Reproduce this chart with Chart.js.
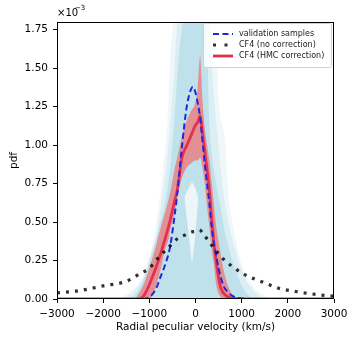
<!DOCTYPE html>
<html>
<head>
<meta charset="utf-8">
<script src="https://cdn.jsdelivr.net/npm/chart.js@4"></script>
<style>
  html, body { margin: 0; padding: 0; background: #fff; }
</style>
</head>
<body>
<canvas id="chart" width="357" height="342"></canvas>
<script>
// values are in units of 1e-3 (pdf), x in km/s
const xTicks = [-3000, -2000, -1000, 0, 1000, 2000, 3000];
const yTicks = [0, 0.25, 0.5, 0.75, 1.0, 1.25, 1.5, 1.75];
const legendLabels = ['validation samples', 'CF4 (no correction)', 'CF4 (HMC correction)'];

// validation samples (mean curve)
const valX = [-3000, -1200, -1050, -950, -850, -750, -650, -550, -450, -400, -350, -300, -250, -200, -150, -100, -60, 0, 50, 100, 150, 200, 250, 300, 350, 400, 450, 500, 600, 700, 800, 900, 1000, 1200, 3000];
const valY = [0, 0, 0.005, 0.025, 0.07, 0.15, 0.23, 0.34, 0.55, 0.67, 0.82, 0.97, 1.11, 1.23, 1.31, 1.36, 1.38, 1.34, 1.27, 1.18, 1.03, 0.88, 0.75, 0.62, 0.47, 0.36, 0.28, 0.2, 0.09, 0.045, 0.02, 0.008, 0.003, 0, 0];

// CF4, no correction
const cfX = [-3000, -2500, -2000, -1500, -1200, -1000, -800, -600, -400, -200, -100, 0, 80, 200, 300, 400, 600, 800, 1000, 1200, 1500, 1800, 2200, 2600, 3000];
const cfY = [0.04, 0.055, 0.085, 0.115, 0.165, 0.2, 0.27, 0.33, 0.39, 0.42, 0.435, 0.44, 0.45, 0.41, 0.37, 0.33, 0.26, 0.21, 0.17, 0.14, 0.105, 0.07, 0.047, 0.03, 0.018];

// CF4, HMC correction
const hmcX = [-3000, -1250, -1150, -1050, -950, -850, -750, -650, -550, -450, -400, -350, -300, -250, -200, -100, 0, 50, 100, 150, 200, 250, 300, 350, 400, 450, 500, 550, 650, 800, 1000, 3000];
const hmcY = [0, 0, 0.01, 0.06, 0.13, 0.21, 0.30, 0.40, 0.51, 0.64, 0.70, 0.80, 0.91, 0.96, 0.99, 1.06, 1.13, 1.15, 1.19, 1.08, 0.96, 0.84, 0.71, 0.52, 0.36, 0.24, 0.14, 0.07, 0.025, 0.005, 0, 0];

// spread of the HMC samples (envelopes)
const hmcBandX = [-1300, -1130, -1000, -880, -750, -660, -590, -530, -450, -410, -300, -200, -100, 0, 50, 100, 150, 200, 250, 300, 350, 390, 450, 530, 600, 700, 800, 900];
const hmcUpper = [0, 0.09, 0.2, 0.32, 0.47, 0.56, 0.64, 0.72, 0.85, 0.9, 1.05, 1.15, 1.22, 1.28, 1.38, 1.58, 1.3, 1.12, 1.0, 0.9, 0.76, 0.64, 0.47, 0.32, 0.2, 0.09, 0.03, 0];
const hmcLower = [0, 0, 0, 0.06, 0.2, 0.32, 0.38, 0.47, 0.56, 0.64, 0.78, 0.85, 0.88, 0.9, 0.9, 0.92, 0.85, 0.75, 0.6, 0.47, 0.32, 0.24, 0.09, 0.02, 0, 0, 0, 0];

// spread of the validation samples (three density levels)
const valInnerX = [-1400, -1250, -1100, -950, -800, -650, -550, -450, -370, -180, 240, 265, 290, 350, 450, 550, 650, 800, 950, 1100, 1250];
const valInnerY = [0, 0.05, 0.15, 0.3, 0.45, 0.64, 0.85, 1.2, 1.55, 1.9, 1.9, 1.55, 1.2, 0.95, 0.75, 0.58, 0.42, 0.25, 0.12, 0.04, 0];
const valMidX = [-1550, -1300, -1100, -900, -750, -600, -480, -350, 300, 380, 480, 600, 750, 900, 1100, 1300, 1450];
const valMidY = [0, 0.06, 0.15, 0.33, 0.6, 0.95, 1.4, 1.9, 1.9, 1.4, 1.05, 0.7, 0.45, 0.28, 0.12, 0.04, 0];
const valOuterX = [-1700, -1500, -1300, -1100, -900, -800, -700, -600, -550, -420, 420, 500, 650, 700, 800, 900, 1000, 1200, 1400, 1600];
const valOuterY = [0, 0.03, 0.08, 0.18, 0.4, 0.6, 0.85, 1.2, 1.55, 1.9, 1.9, 1.3, 1.0, 0.72, 0.5, 0.35, 0.22, 0.1, 0.04, 0];

// sparse region in the middle of the sample cloud
const gapX = [-240, -150, -75, 0, 60];
const gapTop = [0.66, 0.72, 0.76, 0.72, 0.66];
const gapBottom = [0.66, 0.42, 0.23, 0.42, 0.66];

const pts = (xs, ys) => xs.map((x, i) => ({ x: x, y: ys[i] }));

const blueLine = '#2424e0';
const redLine = '#e2304f';
const dotColor = 'rgba(0,0,0,0.8)';
const clear = 'rgba(0,0,0,0)';
const font = 'DejaVu Sans';

const frameAndText = {
  id: 'frameAndText',
  afterDraw(chart) {
    const ctx = chart.ctx;
    const a = chart.chartArea;
    ctx.save();
    ctx.strokeStyle = '#000';
    ctx.lineWidth = 1;
    ctx.strokeRect(a.left + 0.5, a.top + 0.5, a.right - a.left - 1, a.bottom - a.top - 1);

    ctx.fillStyle = '#000';
    ctx.font = '10.5px "' + font + '"';
    ctx.textAlign = 'center';
    ctx.textBaseline = 'middle';
    ctx.fillText('Radial peculiar velocity (km/s)', (a.left + a.right) / 2, 327);

    ctx.save();
    ctx.translate(14, (a.top + a.bottom) / 2);
    ctx.rotate(-Math.PI / 2);
    ctx.fillText('pdf', 0, 0);
    ctx.restore();

    ctx.textAlign = 'left';
    ctx.font = '10px "' + font + '"';
    ctx.fillText('\u00d710', a.left, 13);
    ctx.font = '7px "' + font + '"';
    ctx.fillText('\u22123', a.left + 18, 8);

    // legend
    const lx = 203, ly = 23, lw = 128, lh = 44;
    ctx.fillStyle = 'rgba(255,255,255,0.85)';
    ctx.strokeStyle = '#d0d0d0';
    ctx.lineWidth = 1;
    ctx.beginPath();
    ctx.roundRect(lx + 0.5, ly + 0.5, lw, lh, 2);
    ctx.fill();
    ctx.stroke();

    const rows = [34, 45, 56];
    const styles = [
      { color: blueLine, width: 2, dash: [6, 3.5] },
      { color: dotColor, width: 3, dash: [3, 8.5] },
      { color: redLine, width: 2.8, dash: [] }
    ];
    rows.forEach((y, i) => {
      const s = styles[i];
      ctx.strokeStyle = s.color;
      ctx.lineWidth = s.width;
      ctx.setLineDash(s.dash);
      ctx.lineCap = 'butt';
      ctx.beginPath();
      ctx.moveTo(213, y);
      ctx.lineTo(233, y);
      ctx.stroke();
    });
    ctx.setLineDash([]);
    ctx.fillStyle = '#222';
    ctx.font = '8px "' + font + '"';
    rows.forEach((y, i) => ctx.fillText(legendLabels[i], 239, y));
    ctx.restore();
  }
};

new Chart(document.getElementById('chart'), {
  type: 'line',
  data: {
    datasets: [
      { data: pts(cfX, cfY), borderColor: dotColor, borderWidth: 3.2, borderDash: [3, 6], borderCapStyle: 'butt', cubicInterpolationMode: 'monotone', fill: false },
      { data: pts(valX, valY), borderColor: blueLine, borderWidth: 2, borderDash: [6, 3.5], cubicInterpolationMode: 'monotone', fill: false },
      { data: pts(hmcX, hmcY), borderColor: redLine, borderWidth: 2.8, cubicInterpolationMode: 'monotone', fill: false },
      { data: pts(hmcBandX, hmcUpper), borderWidth: 0, borderColor: clear, backgroundColor: 'rgba(240,112,112,0.72)', cubicInterpolationMode: 'monotone', fill: '+1' },
      { data: pts(hmcBandX, hmcLower), borderWidth: 0, borderColor: clear, cubicInterpolationMode: 'monotone', fill: false },
      { data: pts(gapX, gapTop), borderWidth: 0, borderColor: clear, backgroundColor: 'rgba(255,255,255,0.7)', fill: '+1' },
      { data: pts(gapX, gapBottom), borderWidth: 0, borderColor: clear, fill: false },
      { data: pts(valInnerX, valInnerY), borderWidth: 0, borderColor: clear, backgroundColor: 'rgba(173,216,230,0.6)', cubicInterpolationMode: 'monotone', fill: 'origin' },
      { data: pts(valMidX, valMidY), borderWidth: 0, borderColor: clear, backgroundColor: 'rgba(173,216,230,0.3)', cubicInterpolationMode: 'monotone', fill: 'origin' },
      { data: pts(valOuterX, valOuterY), borderWidth: 0, borderColor: clear, backgroundColor: 'rgba(173,216,230,0.2)', cubicInterpolationMode: 'monotone', fill: 'origin' }
    ]
  },
  options: {
    responsive: false,
    animation: false,
    layout: { padding: { left: 0, right: 23, top: 22, bottom: 0 } },
    elements: { point: { radius: 0, hoverRadius: 0 } },
    plugins: { legend: { display: false }, tooltip: { enabled: false } },
    scales: {
      x: {
        type: 'linear',
        min: -3000,
        max: 3000,
        afterBuildTicks: s => { s.ticks = xTicks.map(v => ({ value: v })); },
        afterFit: s => { s.height = 43; s.paddingLeft = 0; s.paddingRight = 0; },
        ticks: {
          autoSkip: false, maxRotation: 0, padding: 5, color: '#000',
          font: { family: font, size: 10.5 },
          callback: v => (v < 0 ? '\u2212' + Math.abs(v) : String(v))
        },
        grid: { drawOnChartArea: false, color: '#000', tickColor: '#000', tickLength: 4 },
        border: { display: false }
      },
      y: {
        min: 0,
        max: 1.8,
        afterBuildTicks: s => { s.ticks = yTicks.map(v => ({ value: v })); },
        afterFit: s => { s.width = 57; s.paddingTop = 0; s.paddingBottom = 0; },
        ticks: {
          padding: 5, color: '#000',
          font: { family: font, size: 10.5 },
          callback: v => v.toFixed(2)
        },
        grid: { drawOnChartArea: false, color: '#000', tickColor: '#000', tickLength: 4 },
        border: { display: false }
      }
    }
  },
  plugins: [frameAndText]
});
</script>
</body>
</html>
